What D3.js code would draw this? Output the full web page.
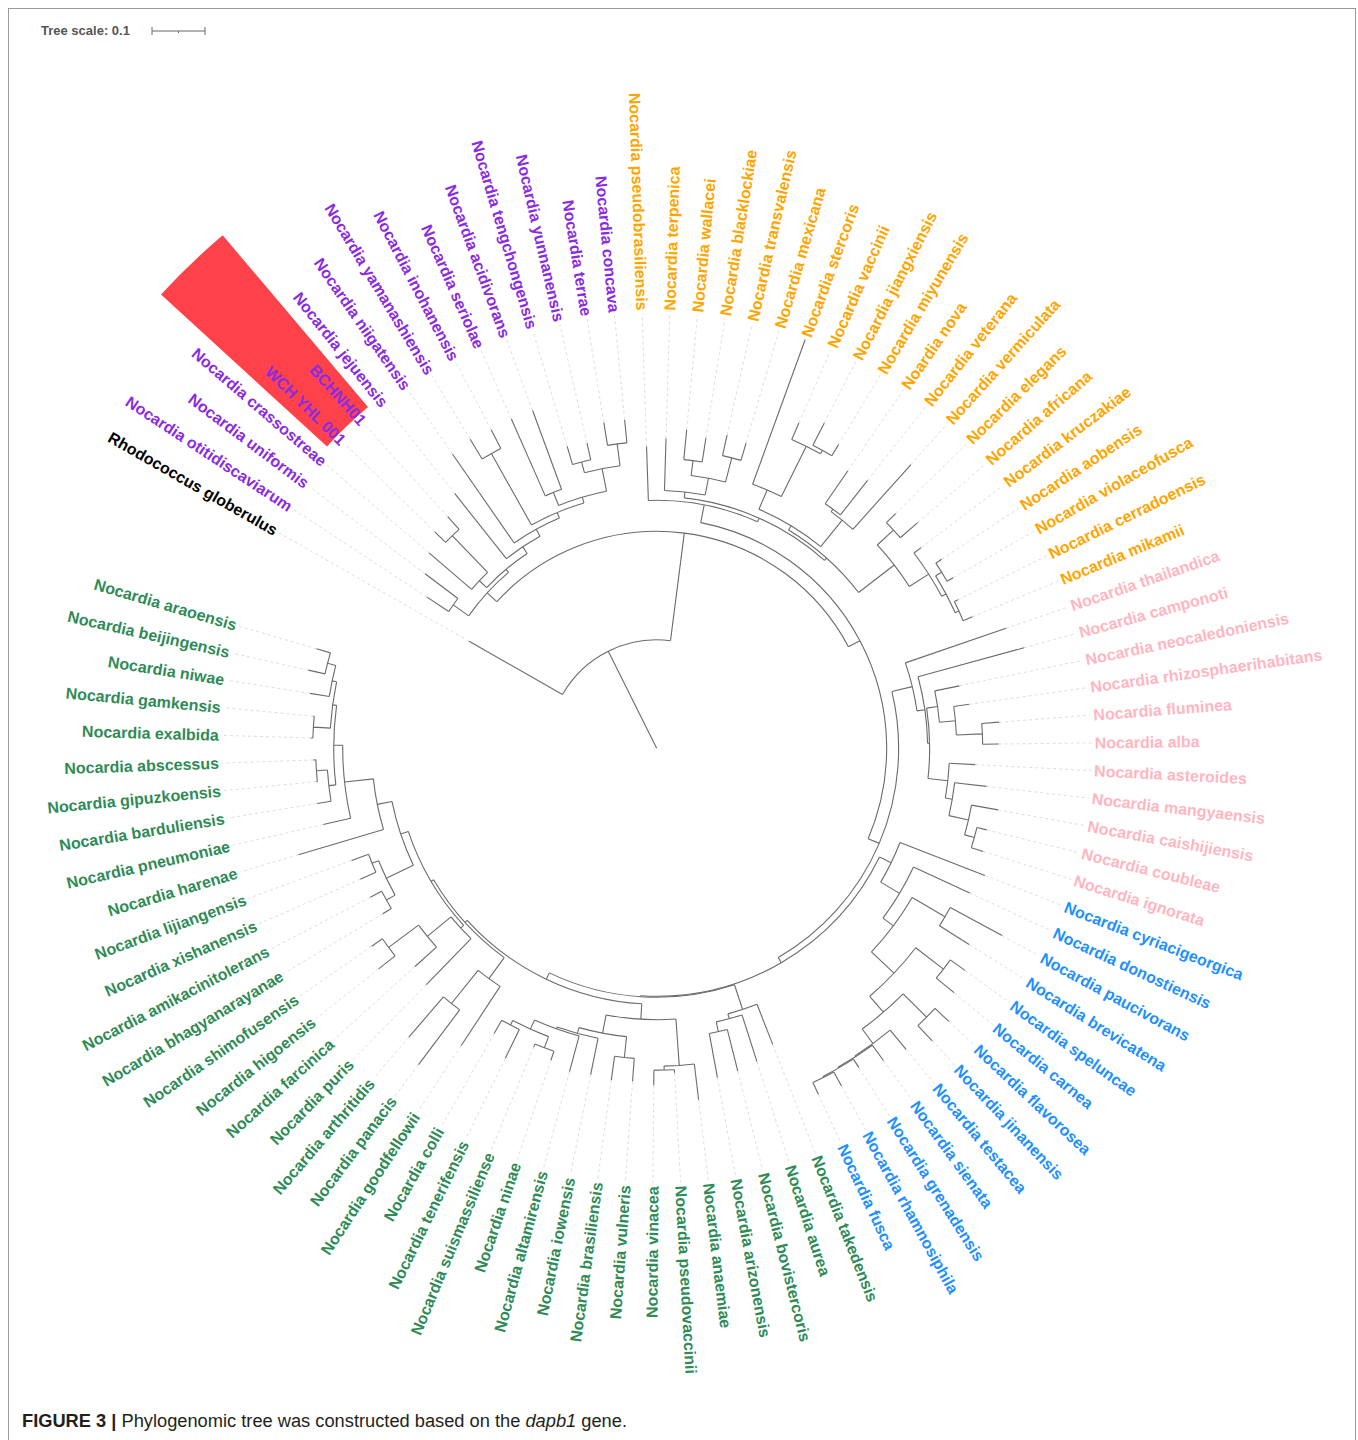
<!DOCTYPE html>
<html>
<head>
<meta charset="utf-8">
<script src="https://cdn.jsdelivr.net/npm/d3@7"></script>
<style>
  body { margin: 0; background: #fff; }
  svg { display: block; }
</style>
</head>
<body>
<div id="chart"></div>
<script>
// leaf groups (clockwise from the outgroup) and their label colours
var outgroupLeaves = ["Rhodococcus globerulus"];
var purpleLeaves = ["Nocardia otitidiscaviarum", "Nocardia uniformis", "Nocardia crassostreae", "WCH YHL 001", "BCHNH01",
  "Nocardia jejuensis", "Nocardia niigatensis", "Nocardia yamanashiensis", "Nocardia inohanensis", "Nocardia seriolae",
  "Nocardia acidivorans", "Nocardia tengchongensis", "Nocardia yunnanensis", "Nocardia terrae", "Nocardia concava"];
var orangeLeaves = ["Nocardia pseudobrasiliensis", "Nocardia terpenica", "Nocardia wallacei", "Nocardia blacklockiae",
  "Nocardia transvalensis", "Nocardia mexicana", "Nocardia stercoris", "Nocardia vaccinii", "Nocardia jiangxiensis",
  "Nocardia miyunensis", "Noardia nova", "Nocardia veterana", "Nocardia vermiculata", "Nocardia elegans",
  "Nocardia africana", "Nocardia kruczakiae", "Nocardia aobensis", "Nocardia violaceofusca", "Nocardia cerradoensis",
  "Nocardia mikamii"];
var pinkLeaves = ["Nocardia thailandica", "Nocardia camponoti", "Nocardia neocaledoniensis", "Nocardia rhizosphaerihabitans",
  "Nocardia fluminea", "Nocardia alba", "Nocardia asteroides", "Nocardia mangyaensis", "Nocardia caishijiensis",
  "Nocardia coubleae", "Nocardia ignorata"];
var blueLeaves = ["Nocardia cyriacigeorgica", "Nocardia donostiensis", "Nocardia paucivorans", "Nocardia brevicatena",
  "Nocardia speluncae", "Nocardia carnea", "Nocardia flavorosea", "Nocardia jinanensis", "Nocardia testacea",
  "Nocardia sienata", "Nocardia grenadensis", "Nocardia rhamnosiphila", "Nocardia fusca"];
// green = everything else
var groupColors = {outgroup: "#000000", purple: "#8a2be2", orange: "#ffa500", pink: "#ffb6c1", blue: "#1e90ff", green: "#2e8b57"};
var highlighted = ["WCH YHL 001", "BCHNH01"];

// clades in newick (branch lengths in tree units)
var purpleClade = "((Nocardia_otitidiscaviarum:0.0491,Nocardia_uniformis:0.0774):0.0358,((Nocardia_crassostreae:0.1057,(WCH_YHL_001:0.0283,BCHNH01:0.0321):0.0962):0.0189,(Nocardia_jejuensis:0.1566,(Nocardia_niigatensis:0.2038,((Nocardia_yamanashiensis:0.0434,Nocardia_inohanensis:0.0396):0.1547,((Nocardia_seriolae:0.1585,Nocardia_acidivorans:0.1585):0.0264,((Nocardia_tengchongensis:0.0358,Nocardia_yunnanensis:0.0321):0.0208,(Nocardia_terrae:0.0434,Nocardia_concava:0.0434):0.0415):0.0434):0.0113):0.0113):0.0151):0.0151):0.0075):0.0245";
var orangeClade = "(Nocardia_pseudobrasiliensis:0.1019,((Nocardia_terpenica:0.0981,((Nocardia_wallacei:0.0566,Nocardia_blacklockiae:0.0453):0.0283,(Nocardia_transvalensis:0.0396,Nocardia_mexicana:0.0340):0.0472):0.0321):0.0113,(((Nocardia_stercoris:0.2906,(Nocardia_vaccinii:0.0340,(Nocardia_jiangxiensis:0.0472,Nocardia_miyunensis:0.0245):0.0075):0.1057):0.0396,((Noardia_nova:0.0755,Nocardia_veterana:0.0830):0.0057,Nocardia_vermiculata:0.1642):0.0642):0.0094,((Nocardia_elegans:0.0245,Nocardia_africana:0.0434):0.0415,(Nocardia_kruczakiae:0.0170,((Nocardia_aobensis:0.0132,Nocardia_violaceofusca:0.0132):0.0132,(Nocardia_cerradoensis:0.0075,Nocardia_mikamii:0.0189):0.0075):0.0094):0.0434):0.0849):0.0057):0.0075):0.0340";
var pinkClade = "(Nocardia_thailandica:0.2009,(Nocardia_camponoti:0.2075,((Nocardia_neocaledoniensis:0.0472,(Nocardia_rhizosphaerihabitans:0.0294,(Nocardia_fluminea:0.0330,Nocardia_alba:0.0302):0.0491):0.0302):0.0208,(Nocardia_asteroides:0.0491,(Nocardia_mangyaensis:0.0604,(Nocardia_caishijiensis:0.0509,(Nocardia_coubleae:0.0189,Nocardia_ignorata:0.0236):0.0189):0.0377):0.0132):0.0377):0.0038):0.0151):0.0396";
var blueClade = "(Nocardia_cyriacigeorgica:0.1717,(Nocardia_donostiensis:0.1170,((Nocardia_paucivorans:0.1113,Nocardia_brevicatena:0.0660):0.0717,((Nocardia_speluncae:0.0340,Nocardia_carnea:0.0434):0.0660,((Nocardia_flavorosea:0.0358,Nocardia_jinanensis:0.0396):0.0623,(Nocardia_testacea:0.0472,(Nocardia_sienata:0.0358,(Nocardia_grenadensis:0.0189,(Nocardia_rhamnosiphila:0.0302,Nocardia_fusca:0.0245):0.0019):0.0019):0.0019):0.0340):0.0396):0.0585):0.0245):0.0415):0.0245";
var greenClade = "((Nocardia_takedensis:0.0811,(Nocardia_aurea:0.0925,(Nocardia_bovistercoris:0.0811,Nocardia_arizonensis:0.0849):0.0189):0.0094):0.0491,(((Nocardia_anaemiae:0.0679,(Nocardia_pseudovaccinii:0.0057,Nocardia_vinacea:0.0283):0.0075):0.0877,((Nocardia_vulneris:0.0434,Nocardia_brasiliensis:0.0453):0.0396,(Nocardia_iowensis:0.0698,(Nocardia_altamirensis:0.0698,((Nocardia_ninae:0.0179,Nocardia_suismassiliense:0.0057):0.0226,(Nocardia_tenerifensis:0.0604,Nocardia_colli:0.0292):0.0094):0.0189):0.0038):0.0113):0.0349):0.0292,((Nocardia_goodfellowii:0.1340,(Nocardia_panacis:0.1292,Nocardia_arthritidis:0.1002):0.0802):0.0491,((Nocardia_puris:0.1208,(Nocardia_farcinica:0.0547,(Nocardia_higoensis:0.0396,Nocardia_shimofusensis:0.0245):0.0704):0.0579):0.0075,(((Nocardia_bhagyanarayanae:0.0189,Nocardia_amikacinitolerans:0.0242):0.0189,(Nocardia_xishanensis:0.0321,Nocardia_lijiangensis:0.0340):0.0132):0.0566,(Nocardia_harenae:0.1674,(Nocardia_pneumoniae:0.0528,((Nocardia_barduliensis:0.0264,(Nocardia_gipuzkoensis:0.0019,Nocardia_abscessus:0.0049):0.0208):0.0132,((Nocardia_exalbida:0.0038,Nocardia_gamkensis:0.0019):0.0321,(Nocardia_niwae:0.0368,(Nocardia_beijingensis:0.0321,Nocardia_araoensis:0.0272):0.0160):0.0085):0.0075):0.0170):0.0547):0.0283):0.0151):0.0057):0.0057):0.0132):0.0019";

var treeNewick = "((Rhodococcus_globerulus:0.2028,(" + purpleClade + ",(" + orangeClade + ",(" + pinkClade +
  ",(" + blueClade + "," + greenClade + "):0.0113):0.0226):0.0245):0.2047):0.2047);";

var scaleValue = 0.1;

function parseNewick(s) {
    var i = 0;
    function node() {
        var n = {children: []};
        if (s[i] == "(") {
            i++;
            n.children.push(node());
            while (s[i] == ",") { i++; n.children.push(node()); }
            i++;
        }
        var name = "";
        while (i < s.length && ":,);".indexOf(s[i]) < 0) name += s[i++];
        n.name = name.replace(/_/g, " ");
        n.length = 0;
        if (s[i] == ":") {
            i++;
            var num = "";
            while (i < s.length && ",);".indexOf(s[i]) < 0) num += s[i++];
            n.length = +num;
        }
        if (!n.children.length) delete n.children;
        return n;
    }
    return node();
}

function groupOf(name) {
    if (outgroupLeaves.includes(name)) return "outgroup";
    if (purpleLeaves.includes(name)) return "purple";
    if (orangeLeaves.includes(name)) return "orange";
    if (pinkLeaves.includes(name)) return "pink";
    if (blueLeaves.includes(name)) return "blue";
    return "green";
}

var width = 1358, height = 1440;
var cx = 656.7, cy = 748.3;
var startAngle = -150.3, spanAngle = 346.6;   // first leaf angle, first-to-last leaf span
var labelRadius = 438;

var svg = d3.select("#chart").append("svg").attr("width", width).attr("height", height)
    .style("font-family", "'Liberation Sans', Arial, Helvetica, sans-serif");

svg.append("rect").attr("x", 8.5).attr("y", 8.5).attr("width", 1347).attr("height", 1445)
    .attr("fill", "#fff").attr("stroke", "#9a9a9a").attr("stroke-width", 1);

var r = d3.scaleLinear().domain([0, scaleValue]).range([0, 53]);

var root = d3.hierarchy(parseNewick(treeNewick));
var nLeaves = root.leaves().length;
var step = spanAngle / (nLeaves - 1);
// d3.cluster pads half a step at both ends, so widen the size to keep the leaf span exact
d3.cluster().size([step * nLeaves, 1]).separation(function() { return 1; })(root);
root.eachBefore(function(d) { d.dist = d.parent ? d.parent.dist + d.data.length : 0; });

var leaves = root.leaves();
function deg(d) { return startAngle + d.x - step / 2; }
function ang(d) { return deg(d) * Math.PI / 180; }
function pt(a, rad) { return [cx + rad * Math.cos(a), cy + rad * Math.sin(a)]; }

var g = svg.append("g");

// highlight behind the two new strains
var hl = leaves.filter(function(d) { return highlighted.includes(d.data.name); });
var a0 = d3.min(hl, deg) - step / 2;
var a1 = d3.max(hl, deg) + step / 2;
g.append("path")
    .attr("transform", "translate(" + cx + "," + cy + ")")
    .attr("d", d3.arc().innerRadius(447).outerRadius(672)
        .startAngle((a0 + 90) * Math.PI / 180).endAngle((a1 + 90) * Math.PI / 180)())
    .attr("fill", "#ff4249");

// dotted guides from tips to labels
g.append("g").selectAll("line").data(leaves).enter().append("line")
    .attr("x1", function(d) { return pt(ang(d), r(d.dist))[0]; })
    .attr("y1", function(d) { return pt(ang(d), r(d.dist))[1]; })
    .attr("x2", function(d) { return pt(ang(d), labelRadius - 3)[0]; })
    .attr("y2", function(d) { return pt(ang(d), labelRadius - 3)[1]; })
    .attr("stroke", "#d4d4d4").attr("stroke-width", 0.8).attr("stroke-dasharray", "3,3");

// branches: radial part + arc at each internal node
var branches = g.append("g").attr("fill", "none").attr("stroke", "#6b6b6b").attr("stroke-width", 1.1);
root.descendants().forEach(function(d) {
    var p = d3.path();
    if (d.parent) {
        var s = pt(ang(d), r(d.parent.dist)), e = pt(ang(d), r(d.dist));
        p.moveTo(s[0], s[1]); p.lineTo(e[0], e[1]);
    }
    if (d.children && d.children.length > 1) {
        var first = ang(d.children[0]), last = ang(d.children[d.children.length - 1]);
        var rr = r(d.dist);
        var st = pt(first, rr);
        p.moveTo(st[0], st[1]);
        p.arc(cx, cy, rr, first, last, false);
    }
    branches.append("path").attr("d", p.toString());
});

// labels
g.append("g").selectAll("text").data(leaves).enter().append("text")
    .attr("transform", function(d) {
        var a = deg(d);
        var flip = Math.cos(a * Math.PI / 180) < 0;
        return "translate(" + cx + "," + cy + ") rotate(" + a + ") translate(" + labelRadius + ",0)" + (flip ? " rotate(180)" : "");
    })
    .attr("text-anchor", function(d) { return Math.cos(ang(d)) < 0 ? "end" : "start"; })
    .attr("dy", "0.35em")
    .attr("font-size", 16).attr("font-weight", "bold")
    .attr("fill", function(d) { return groupColors[groupOf(d.data.name)]; })
    .text(function(d) { return d.data.name; });

// tree scale
svg.append("text").attr("x", 41).attr("y", 35).attr("font-size", 13).attr("font-weight", "bold")
    .attr("fill", "#555").text("Tree scale: " + scaleValue);
var sb = svg.append("g").attr("stroke", "#666").attr("stroke-width", 1);
var sx0 = 152, sy0 = 31;
sb.append("line").attr("x1", sx0).attr("x2", sx0 + r(scaleValue)).attr("y1", sy0).attr("y2", sy0);
sb.append("line").attr("x1", sx0).attr("x2", sx0).attr("y1", sy0 - 4).attr("y2", sy0 + 4);
sb.append("line").attr("x1", sx0 + r(scaleValue)).attr("x2", sx0 + r(scaleValue)).attr("y1", sy0 - 4).attr("y2", sy0 + 4);
sb.append("line").attr("x1", sx0 + r(scaleValue / 2)).attr("x2", sx0 + r(scaleValue / 2)).attr("y1", sy0).attr("y2", sy0 + 2);

// caption
var cap = svg.append("text").attr("x", 22).attr("y", 1427).attr("font-size", 18).attr("fill", "#231f20")
    .attr("textLength", 605).attr("lengthAdjust", "spacingAndGlyphs")
    .style("font-family", "'Liberation Sans Narrow', 'Liberation Sans', Arial, sans-serif");
cap.append("tspan").attr("font-weight", "bold").text("FIGURE 3 | ");
cap.append("tspan").text("Phylogenomic tree was constructed based on the ");
cap.append("tspan").attr("font-style", "italic").text("dapb1");
cap.append("tspan").text(" gene.");
</script>
</body>
</html>
